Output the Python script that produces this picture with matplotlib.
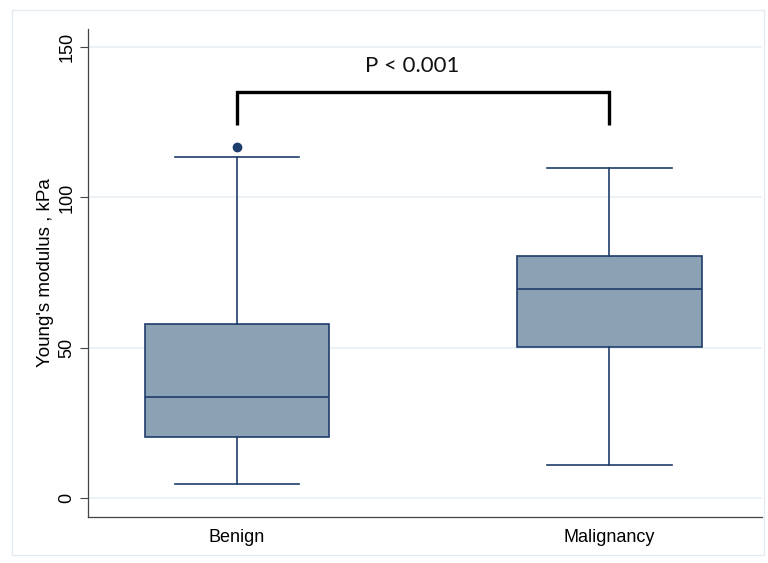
import matplotlib.pyplot as plt
from matplotlib.patches import Rectangle

# box statistics (kPa)
groups = ["Benign", "Malignancy"]
q1 = [20.3, 50.2]
medians = [33.6, 69.5]
q3 = [57.9, 80.5]
whisk_lo = [4.7, 11.0]
whisk_hi = [113.4, 109.7]
outliers = [[116.7], []]
y_ticks = [0, 50, 100, 150]

navy = "#1f3d6b"
fill = "#8ba1b4"
grid_col = "#e9f0f3"

stats = []
for i, g in enumerate(groups):
    stats.append(dict(label=g, q1=q1[i], med=medians[i], q3=q3[i],
                      whislo=whisk_lo[i], whishi=whisk_hi[i], fliers=outliers[i]))

fig = plt.figure(figsize=(7.68, 5.63), dpi=100)
# faint outer frame like the Stata graph region
fig.patches.append(Rectangle((12 / 768, 8 / 563), 752 / 768, 545 / 563,
                             transform=fig.transFigure, fill=False,
                             edgecolor="#e3ebf0", lw=1.0))
ax = fig.add_axes([88 / 768, 46 / 563, 674 / 768, 488 / 563])

ax.bxp(stats, positions=[1, 2], widths=0.496, capwidths=0.335,
       patch_artist=True, showfliers=True,
       boxprops=dict(facecolor=fill, edgecolor=navy, lw=1.2),
       medianprops=dict(color=navy, lw=1.2),
       whiskerprops=dict(color=navy, lw=1.2),
       capprops=dict(color=navy, lw=1.2),
       flierprops=dict(marker="o", markerfacecolor=navy, markeredgecolor=navy,
                       markersize=6))

# significance bracket
ax.plot([1, 1, 2, 2], [124, 135, 135, 124], color="black", lw=2.4,
        solid_capstyle="butt", solid_joinstyle="miter")
ax.text(1.47, 140.5, "P < 0.001", ha="center", va="bottom", fontsize=16,
        family="Lato", color="#111111")

ax.set_xlim(0.6, 2.41)
ax.set_ylim(-6.3, 156)
ax.set_yticks(y_ticks)
ax.set_yticklabels([str(t) for t in y_ticks], rotation=90, va="center",
                   fontsize=13, family="Liberation Sans")
ax.set_xticks([1, 2])
ax.set_xticklabels(groups, fontsize=13, family="Liberation Sans")
ax.tick_params(axis="x", length=0, pad=9)
ax.tick_params(axis="y", length=6, width=0.8, color="#444444", pad=3)
ax.set_ylabel("Young's modulus , kPa", fontsize=13.5, family="Liberation Sans",
              labelpad=3)

ax.yaxis.grid(True, color=grid_col, lw=1.3)
ax.set_axisbelow(True)
for s in ["top", "right"]:
    ax.spines[s].set_visible(False)
ax.spines["left"].set_color("#444444")
ax.spines["bottom"].set_color("#444444")
ax.spines["left"].set_linewidth(0.9)
ax.spines["bottom"].set_linewidth(0.9)

fig.savefig("out.png", dpi=100)
